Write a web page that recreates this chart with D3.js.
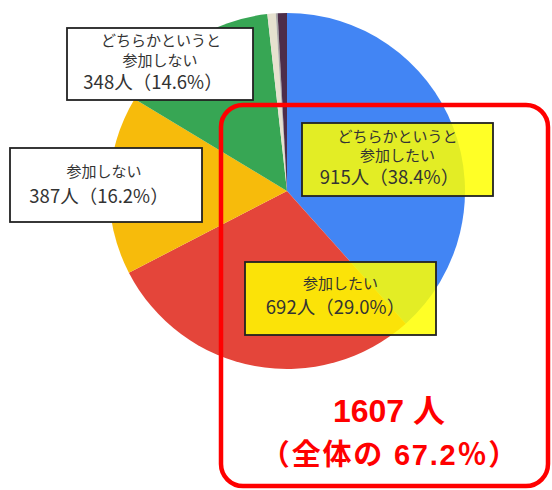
<!DOCTYPE html>
<html><head><meta charset="utf-8">
<script src="https://cdn.jsdelivr.net/npm/d3@7"></script>
<style>html,body{margin:0;padding:0;background:#fff;}svg{display:block;}</style>
</head><body>
<script>
const categories = ["どちらかというと参加したい","参加したい","参加しない","どちらかというと参加しない","その他","不明","無回答"];
const values = [915, 692, 387, 348, 18, 4, 20];
const percents = ["38.4%","29.0%","16.2%","14.6%"];
const colors = ["#4285f4","#e4453a","#f7bb0b","#37a654","#e6e1cf","#a9a9a9","#4d2d4a"];
const labelTitles = [["どちらかというと","参加したい"],["参加したい"],["参加しない"],["どちらかというと","参加しない"]];
const totalText = ["1607 人","（全体の 67.2％）"];

const W = 552, H = 490;
const svg = d3.select("body").append("svg").attr("width", W).attr("height", H);

const cx = 287, cy = 191, r = 178;
const pie = d3.pie().sort(null).value(d => d)(values);
const arc = d3.arc().innerRadius(0).outerRadius(r);
svg.append("g").attr("transform", `translate(${cx},${cy})`)
  .selectAll("path").data(pie).join("path")
  .attr("d", arc).attr("fill", (d,i) => colors[i]);

// label boxes
const boxes = [
  {i:0, x:302, y:123, w:191, h:73, fill:"#ffff00", op:0.85, lines:[142,161,184], dx:[0,0,-8]},
  {i:1, x:245, y:262, w:191, h:73, fill:"#ffff00", op:0.85, lines:[289,314], dx:[0,-5]},
  {i:2, x:10,  y:148, w:192, h:74, fill:"#ffffff", op:1, lines:[177,203], dx:[-2,-7]},
  {i:3, x:67,  y:28,  w:186, h:72, fill:"#ffffff", op:1, lines:[46,66,89], dx:[1,0,-7]}
];
boxes.forEach(b => {
  svg.append("rect").attr("x", b.x).attr("y", b.y).attr("width", b.w).attr("height", b.h)
    .attr("fill", b.fill).attr("fill-opacity", b.op)
    .attr("stroke", "#222").attr("stroke-width", 1.8);
  const texts = labelTitles[b.i].concat([`${values[b.i]}人（${percents[b.i]}）`]);
  const mx = b.x + b.w/2;
  texts.forEach((t, k) => {
    const isNum = k === texts.length - 1;
    svg.append("text").attr("x", mx + b.dx[k]).attr("y", b.lines[k])
      .attr("text-anchor", "middle")
      .attr("font-family", "'Noto Sans CJK JP', 'Noto Sans', sans-serif")
      .attr("font-size", isNum ? 18.5 : 15)
      .attr("fill", "#333")
      .text(t);
  });
});

// red rounded rect
svg.append("rect").attr("x", 221).attr("y", 105).attr("width", 327).attr("height", 381)
  .attr("rx", 22).attr("ry", 22).attr("fill", "none")
  .attr("stroke", "#ff0000").attr("stroke-width", 4.5);

svg.append("text").attr("x", 389).attr("y", 422).attr("text-anchor", "middle")
  .attr("font-family", "'Liberation Sans', 'Noto Sans CJK JP', sans-serif")
  .attr("font-weight", "bold").attr("font-size", 32).attr("fill", "#ff0000")
  .text(totalText[0]);
svg.append("text").attr("x", 390).attr("y", 465).attr("text-anchor", "middle")
  .attr("font-family", "'Liberation Sans', 'Noto Sans CJK JP', sans-serif")
  .attr("font-weight", "bold").attr("font-size", 29).attr("letter-spacing", 1.8).attr("fill", "#ff0000")
  .text(totalText[1]);
</script>
</body></html>
